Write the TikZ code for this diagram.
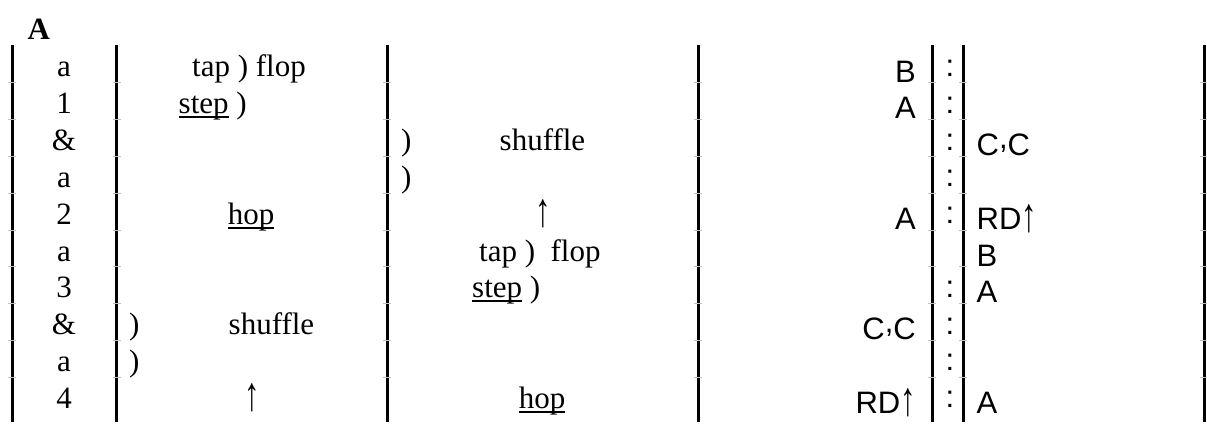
\documentclass[tikz,border=0pt]{standalone}
\usepackage{fontspec}
\setmainfont{Liberation Serif}
\newfontfamily\arialf{Liberation Sans}
\newcommand\myul[1]{\setbox0\hbox{#1}\rlap{\rule[-4.4pt]{\wd0}{1.8pt}}\box0\relax}
\newcommand\uparr{\raisebox{-2pt}{\scalebox{1}[1.55]{↑}}}
\tikzset{
  vline/.style={line width=3pt,black},
  tick/.style={line width=0.6pt,black!25},
  sr/.style={inner sep=0pt,font=\fontsize{31}{37}\selectfont},
  ss/.style={inner sep=0pt,font=\fontsize{31}{37}\selectfont\arialf},
  ttl/.style={inner sep=0pt,font=\fontsize{31}{37}\selectfont\bfseries}
}
\begin{document}
\begin{tikzpicture}[x=1pt,y=-1pt]
\useasboundingbox (0,0) rectangle (1207,428);
% grid lines
\foreach \x/\n in {12/l0,116.5/l1,387/l2,698/l3,932/l4,963/l5,1204/l6}{
  \coordinate (\n t) at (\x,45);
  \coordinate (\n b) at (\x,422);
  \draw[vline] (\n t) -- (\n b);
  \foreach \yy in {82.7,119.5,156.3,193.1,229.9,266.7,303.5,340.3,377.1}{
    \draw[tick] (\x-4,\yy) -- (\x+4,\yy);
  }
}
% title
\node[ttl,anchor=base west] (title) at (27.5,40) {A};
% column 1: counts
\foreach \t [count=\i from 0] in {a,1,\&,a,2,a,3,\&,a,4}{
  \node[sr,anchor=base] (c\i) at (64,77+36.8*\i) {\t};
}
% column 2
\node[sr,anchor=base west] (b0) at (192,77) {tap ) flop};
\node[sr,anchor=base west] (b1) at (178.5,113.8) {\myul{step} )};
\node[sr,anchor=base] (b4) at (251,224.2) {\myul{hop}};
\node[sr,anchor=base west] (b7p) at (129,334.6) {)};
\node[sr,anchor=base west] (b7) at (228.5,334.6) {shuffle};
\node[sr,anchor=base west] (b8p) at (129,371.4) {)};
\node[sr,anchor=base] (b9) at (252,408.2) {\uparr};
% column 3
\node[sr,anchor=base west] (d2p) at (401,150.6) {)};
\node[sr,anchor=base west] (d2) at (499.5,150.6) {shuffle};
\node[sr,anchor=base west] (d3p) at (401,187.4) {)};
\node[sr,anchor=base] (d4) at (543,224.2) {\uparr};
\node[sr,anchor=base west] (d5) at (479,261) {tap ) \ flop};
\node[sr,anchor=base west] (d6) at (472,297.8) {\myul{step} )};
\node[sr,anchor=base] (d9) at (542,408.2) {\myul{hop}};
% column 4 (right aligned)
\node[ss,anchor=base east] (e0) at (916,82) {B};
\node[ss,anchor=base east] (e1) at (916,118.8) {A};
\node[ss,anchor=base east] (e4) at (916,229.2) {A};
\node[ss,anchor=base east] (e7) at (916,339.6) {C\raisebox{0.22em}{,}C};
\node[ss,anchor=base east] (e9) at (916,413.2) {RD\uparr};
% column 5 (colons)
\foreach \i in {0,1,2,3,4,6,7,8,9}{
  \node[ss,anchor=base] (f\i) at (950,76.5+36.8*\i) {:};
}
% column 6 (left aligned)
\node[ss,anchor=base west] (g2) at (976.5,155.6) {C\raisebox{0.22em}{,}C};
\node[ss,anchor=base west] (g4) at (976.5,229.2) {RD\uparr};
\node[ss,anchor=base west] (g5) at (976.5,266) {B};
\node[ss,anchor=base west] (g6) at (976.5,302.8) {A};
\node[ss,anchor=base west] (g9) at (976.5,413.2) {A};
\end{tikzpicture}
\end{document}
